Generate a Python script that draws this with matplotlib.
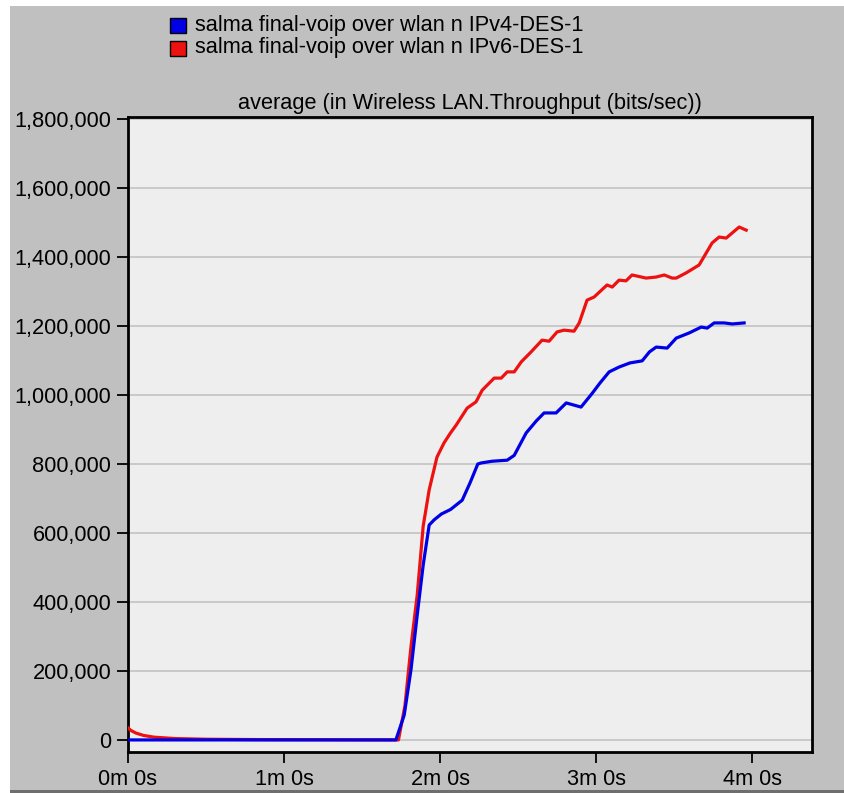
import matplotlib
matplotlib.use("Agg")
from matplotlib import pyplot as plt
from matplotlib.patches import Rectangle
from matplotlib.ticker import FuncFormatter

# time in seconds, throughput in bits/sec
ipv4_t = [0, 103, 106.2, 108.8, 111.2, 113.5, 115.8, 117.7, 120.5, 124, 128.5, 131.5,
          134.5, 135.8, 140, 145.8, 148.5, 153.1, 157, 160, 164.6, 168.5, 174.2, 178.5,
          181.5, 185, 188.8, 193, 197.7, 200.5, 203.1, 207.3, 210.8, 215.8, 220.4, 222.7,
          225.4, 229.2, 232.3, 236.9]
ipv4_v = [0, 0, 72000, 203000, 362000, 507000, 623000, 638000, 655000, 668000, 695000,
          745000, 800000, 803000, 808000, 811000, 825000, 890000, 925000, 948000, 948000,
          977000, 965000, 1005000, 1035000, 1067000, 1081000, 1093000, 1099000, 1125000,
          1139000, 1136000, 1165000, 1180000, 1197000, 1194000, 1209000, 1209000, 1206000,
          1209000]

ipv6_t = [0, 1, 3, 6, 10, 18, 30, 50, 80, 104, 106.5, 108.8, 111.2, 113.5, 115.8, 118.8,
          121.5, 124, 126.2, 130.4, 133.8, 136.2, 140.8, 143.5, 145.8, 148.5, 151.2, 155,
          159.2, 161.9, 165, 167.7, 171.5, 173.5, 176.5, 179.2, 184.2, 186.2, 188.8, 191.5,
          193.8, 199.2, 203.1, 206.2, 209.2, 210.8, 214.6, 219.6, 224.6, 227.3, 230, 235,
          237.7]
ipv6_v = [35000, 28000, 20000, 13000, 8000, 4000, 2000, 1000, 500, 0, 100000, 270000,
          420000, 620000, 725000, 820000, 861000, 890000, 913000, 962000, 980000, 1014000,
          1049000, 1049000, 1067000, 1067000, 1096000, 1125000, 1159000, 1156000, 1183000,
          1188000, 1185000, 1209000, 1275000, 1284000, 1319000, 1313000, 1333000, 1331000,
          1348000, 1339000, 1342000, 1348000, 1339000, 1339000, 1354000, 1377000, 1441000,
          1458000, 1455000, 1487000, 1478000]

labels = ["salma final-voip over wlan n IPv4-DES-1",
          "salma final-voip over wlan n IPv6-DES-1"]
colors = ["#0000e6", "#ee1111"]
title = "average (in Wireless LAN.Throughput (bits/sec))"

x_ticks = [0, 60, 120, 180, 240]
x_labels = ["0m 0s", "1m 0s", "2m 0s", "3m 0s", "4m 0s"]
y_ticks = list(range(0, 1800001, 200000))

plt.rcParams["font.family"] = ["Liberation Sans", "DejaVu Sans"]
FS = 15.7

W, H = 845, 793
fig = plt.figure(figsize=(W / 100, H / 100), dpi=100)
fig.patch.set_facecolor("#c0c0c0")
# white margin on top and left, dark line at bottom
fig.patches.append(Rectangle((0, 1 - 6 / H), 1, 6 / H, transform=fig.transFigure,
                             facecolor="white", edgecolor="none"))
fig.patches.append(Rectangle((0, 0), 10 / W, 1, transform=fig.transFigure,
                             facecolor="white", edgecolor="none"))
fig.patches.append(Rectangle((10 / W, 0), 1, 3 / H, transform=fig.transFigure,
                             facecolor="#6e6e6e", edgecolor="none"))

ax = fig.add_axes([128 / W, 41 / H, (812 - 128) / W, (752 - 117) / H])
ax.set_facecolor("#eeeeee")

ax.plot(ipv6_t, ipv6_v, color=colors[1], lw=2.3, zorder=3)
ax.plot(ipv4_t, ipv4_v, color=colors[0], lw=2.3, zorder=4)

ax.set_xlim(0, 263)
ax.set_ylim(-35000, 1806000)
ax.set_xticks(x_ticks)
ax.set_xticklabels(x_labels)
ax.set_yticks(y_ticks)
ax.yaxis.set_major_formatter(FuncFormatter(lambda v, p: f"{int(v):,}"))
ax.tick_params(direction="out", length=8, width=1.3, colors="black",
               labelsize=FS, pad=4)
ax.grid(axis="y", color="#c8c8c8", lw=1.4)
ax.set_axisbelow(True)
for s in ax.spines.values():
    s.set_linewidth(2)
    s.set_color("black")

ax.set_title(title, fontsize=FS, pad=6)

# legend above the plot
for i, (lab, col) in enumerate(zip(labels, colors)):
    yc = 1 - (25 + 23 * i) / H
    fig.patches.append(Rectangle((170 / W, yc - 7.5 / H), 16 / W, 15 / H,
                                 transform=fig.transFigure, facecolor=col,
                                 edgecolor="black", lw=1))
    fig.text(195 / W, yc, lab, fontsize=FS, va="center", ha="left")

fig.savefig("out.png", dpi=100, facecolor=fig.get_facecolor())
